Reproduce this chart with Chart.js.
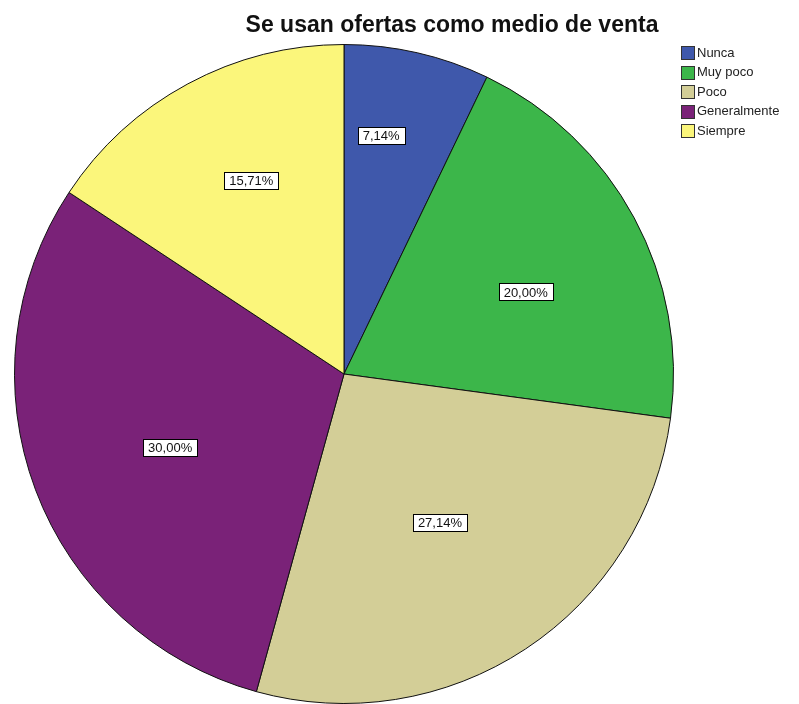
<!DOCTYPE html>
<html>
<head>
<meta charset="utf-8">
<script src="https://cdn.jsdelivr.net/npm/chart.js@4/dist/chart.umd.min.js"></script>
<style>
html,body{margin:0;padding:0;background:#fff;overflow:hidden;}
#wrap{position:relative;width:799px;height:704px;}
</style>
</head>
<body>
<div id="wrap"><canvas id="c" width="799" height="704"></canvas></div>
<script>
const chartTitle = "Se usan ofertas como medio de venta";
const categories = ["Nunca", "Muy poco", "Poco", "Generalmente", "Siempre"];
const values = [7.14, 20.00, 27.14, 30.00, 15.71];
const valueLabels = ["7,14%", "20,00%", "27,14%", "30,00%", "15,71%"];
const colors = ["#3f58ab", "#3cb64a", "#d3ce97", "#7a2278", "#fbf67b"];
// label placement style: [radius fraction, angle shift in degrees]
const labelRadius = [0.733, 0.605, 0.537, 0.573, 0.652];
const labelShift = [-4.0, 4.0, 0.6, -2.4, 2.7];

const FONT = '"Liberation Sans", Arial, sans-serif';

const overlay = {
  id: 'overlay',
  afterDraw(chart) {
    const ctx = chart.ctx;
    const meta = chart.getDatasetMeta(0);
    ctx.save();
    // slice labels
    ctx.font = '13px ' + FONT;
    ctx.textAlign = 'center';
    ctx.textBaseline = 'middle';
    meta.data.forEach((arc, i) => {
      const p = arc.getProps(['x','y','startAngle','endAngle','outerRadius'], true);
      const mid = (p.startAngle + p.endAngle) / 2 + labelShift[i] * Math.PI / 180;
      const r = p.outerRadius * labelRadius[i];
      const x = p.x + Math.cos(mid) * r;
      const y = p.y + Math.sin(mid) * r;
      const t = valueLabels[i];
      const w = ctx.measureText(t).width + 10;
      const h = 17;
      ctx.fillStyle = '#fff';
      ctx.fillRect(Math.round(x - w/2) + 0.5, Math.round(y - h/2) + 0.5, Math.round(w), h);
      ctx.strokeStyle = '#000';
      ctx.lineWidth = 1;
      ctx.strokeRect(Math.round(x - w/2) + 0.5, Math.round(y - h/2) + 0.5, Math.round(w), h);
      ctx.fillStyle = '#111';
      ctx.fillText(t, x, y + 1);
    });
    // title
    ctx.font = 'bold 23px ' + FONT;
    ctx.fillStyle = '#111';
    ctx.textAlign = 'center';
    ctx.textBaseline = 'alphabetic';
    ctx.fillText(chartTitle, 452, 32);
    // legend
    ctx.font = '13px ' + FONT;
    ctx.textAlign = 'left';
    ctx.textBaseline = 'middle';
    categories.forEach((c, i) => {
      const y = 52 + i * 19.5;
      ctx.fillStyle = colors[i];
      ctx.fillRect(681.5, Math.round(y - 6) + 0.5, 13, 13);
      ctx.strokeStyle = '#333';
      ctx.strokeRect(681.5, Math.round(y - 6) + 0.5, 13, 13);
      ctx.fillStyle = '#222';
      ctx.fillText(c, 697, y + 1);
    });
    ctx.restore();
  }
};

new Chart(document.getElementById('c'), {
  type: 'pie',
  data: {
    labels: categories,
    datasets: [{
      data: values,
      backgroundColor: colors,
      borderColor: '#111',
      borderWidth: 1
    }]
  },
  options: {
    responsive: false,
    animation: false,
    layout: { padding: { left: 14, right: 125, top: 44, bottom: 0 } },
    plugins: {
      legend: { display: false },
      title: { display: false },
      tooltip: { enabled: false }
    }
  },
  plugins: [overlay]
});
</script>
</body>
</html>
